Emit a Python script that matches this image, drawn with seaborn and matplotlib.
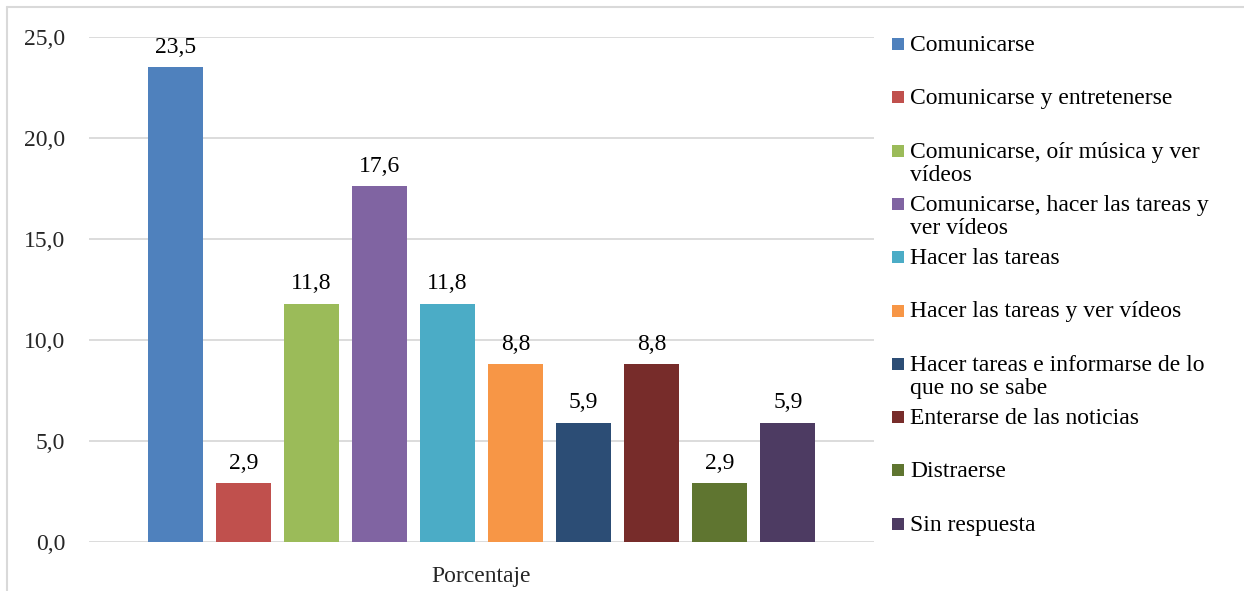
import numpy as np
import pandas as pd
import matplotlib
matplotlib.use("Agg")
import matplotlib.pyplot as plt
from matplotlib.patches import Rectangle
from matplotlib.lines import Line2D
import seaborn as sns

# --- data ---
series = [
    "Comunicarse",
    "Comunicarse y entretenerse",
    "Comunicarse, oír música y ver\nvídeos",
    "Comunicarse, hacer las tareas y\nver vídeos",
    "Hacer las tareas",
    "Hacer las tareas y ver vídeos",
    "Hacer tareas e informarse de lo\nque no se sabe",
    "Enterarse de las noticias",
    "Distraerse",
    "Sin respuesta",
]
values = [23.5, 2.9, 11.8, 17.6, 11.8, 8.8, 5.9, 8.8, 2.9, 5.9]
category = "Porcentaje"
yticks = [0, 5, 10, 15, 20, 25]
colors = ["#4F81BD", "#C0504D", "#9BBB59", "#8064A2", "#4BACC6",
          "#F79646", "#2C4D75", "#772C2A", "#5F7530", "#4D3B62"]

sns.set_theme(style="white")
plt.rcParams["font.family"] = ["Liberation Serif", "DejaVu Serif"]
FS = 17

W, H = 1244, 591
fig = plt.figure(figsize=(W / 100, H / 100), dpi=100)
ax = fig.add_axes([89 / W, (H - 542) / H, (874 - 89) / W, (542 - 37) / H])

df = pd.DataFrame({"cat": [category] * len(values), "serie": series, "valor": values})
sns.barplot(data=df, x="cat", y="valor", hue="serie", hue_order=series,
            palette=colors, width=0.867, gap=0.19, legend=False,
            saturation=1, linewidth=0, ax=ax)

for cont in ax.containers:
    ax.bar_label(cont, labels=[f"{v.get_height():.1f}".replace(".", ",") for v in cont],
                 padding=7, fontsize=FS, color="#000000")

ax.set_ylim(0, 25)
ax.set_xlim(-0.5, 0.5)
ax.set_yticks(yticks)
ax.set_yticklabels([f"{t:.1f}".replace(".", ",") for t in yticks], fontsize=FS)
ax.set_xticks([0])
ax.set_xticklabels([category], fontsize=FS)
ax.tick_params(axis="y", length=0, pad=17)
ax.tick_params(axis="x", length=0, pad=17)
ax.set_xlabel("")
ax.set_ylabel("")
ax.yaxis.grid(True, color="#D9D9D9", lw=1.3)
ax.set_axisbelow(True)
for s in ax.spines.values():
    s.set_visible(False)

# legend, laid out like the Excel one (fixed slot per entry)
for i, (lab, col) in enumerate(zip(series, colors)):
    yc = 44 + 53.3 * i
    fig.add_artist(Rectangle((892 / W, (H - yc - 6) / H), 12 / W, 12 / H,
                             transform=fig.transFigure, color=col, lw=0))
    fig.text(910 / W, (H - yc + 9) / H, lab, fontsize=FS, va="top", ha="left",
             linespacing=1.15, color="#000000")

# chart area border (top and left visible)
fig.add_artist(Line2D([7 / W, 1], [(H - 7) / H] * 2, transform=fig.transFigure,
                      color="#D9D9D9", lw=1.5))
fig.add_artist(Line2D([7 / W] * 2, [0, (H - 7) / H], transform=fig.transFigure,
                      color="#D9D9D9", lw=1.5))

fig.savefig("out.png", dpi=100)
